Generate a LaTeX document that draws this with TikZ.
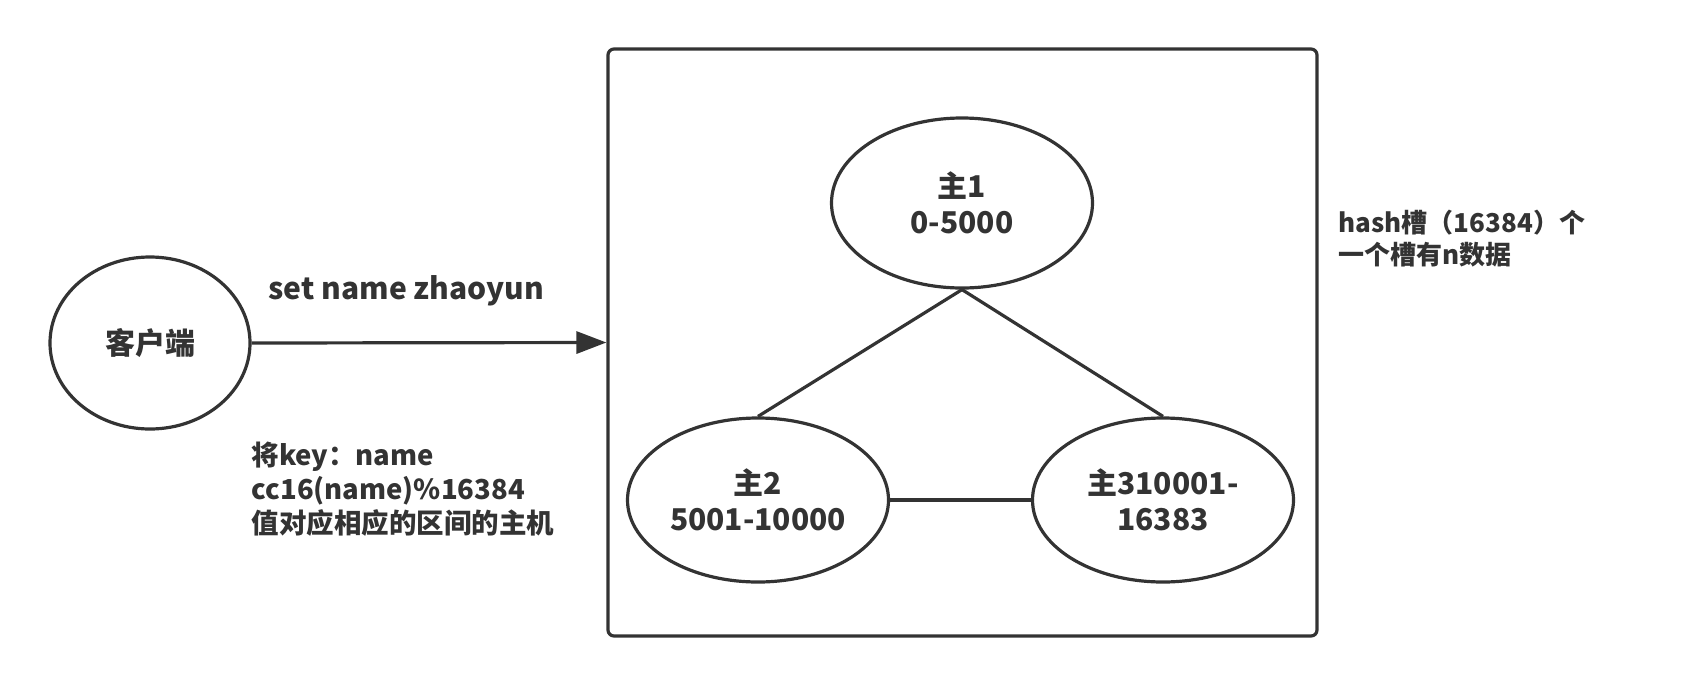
\documentclass[tikz,border=0pt]{standalone}
\usepackage{fontspec}
\setmainfont{Noto Sans CJK SC}
\usetikzlibrary{shapes.geometric}
\usetikzlibrary{arrows.meta}
\definecolor{ink}{HTML}{333333}

\begin{document}
\begin{tikzpicture}[x=1pt, y=-1pt, line width=3.2pt, draw=ink, text=ink,
    font=\bfseries\fontsize{30}{36}\selectfont,
    host/.style={ellipse, draw=ink, align=center, minimum width=261pt, minimum height=167pt, inner sep=0pt},
    link/.style={draw=ink, line width=3.2pt}]

\useasboundingbox (0,0) rectangle (1682,686);

\node[ellipse, draw=ink, minimum width=200pt, minimum height=172pt, inner sep=0pt] (client) at (150,343) {客户端};

\node[draw=ink, rounded corners=6pt, minimum width=709pt, minimum height=587pt] (cluster) at (962.5,342.5) {};

\node[host, minimum height=170pt] (m1) at (962,203) {主1\\0-5000};
\node[host, minimum height=164pt] (m2) at (758,500) {主2\\5001-10000};
\node[host, minimum height=164pt] (m3) at (1163,500) {主310001-\\16383};

\draw[link, -{Triangle[length=30pt, width=22pt]}] (client.east) -- (cluster.west);
\draw[link] (m1.south) -- (m2.north);
\draw[link] (m1.south) -- (m3.north);
\draw[link] (m2.east) -- (m3.west);

\node[anchor=west, inner sep=0pt] (cmd) at (267,291) {set name zhaoyun};
\node[anchor=west, align=left, inner sep=0pt, font=\bfseries\fontsize{27.5}{34}\selectfont] (hashnote) at (250,489) {将key：name\\cc16(name)\%16384\\值对应相应的区间的主机};
\node[anchor=west, align=left, inner sep=0pt, font=\bfseries\fontsize{26}{32}\selectfont] (slotnote) at (1337,239) {hash槽（16384）个\\一个槽有n数据};

\end{tikzpicture}
\end{document}
